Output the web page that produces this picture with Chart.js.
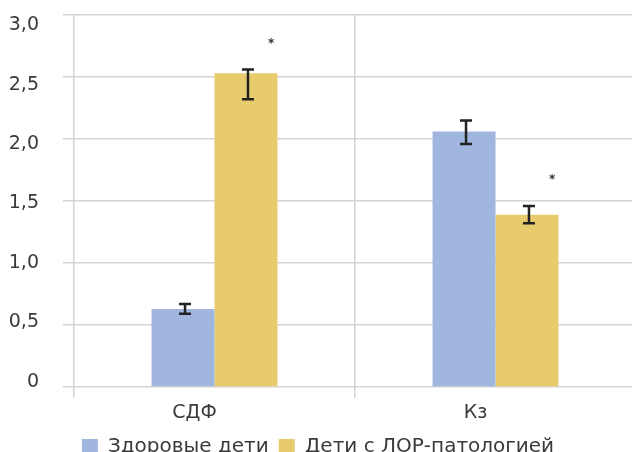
<!DOCTYPE html>
<html>
<head>
<meta charset="utf-8">
<script src="https://cdn.jsdelivr.net/npm/chart.js@4/dist/chart.umd.min.js"></script>
<style>
  html, body { margin: 0; padding: 0; background: #ffffff; overflow: hidden; }
  #wrap { width: 636px; height: 467px; }
</style>
</head>
<body>
<div id="wrap"><canvas id="c" width="636" height="467"></canvas></div>
<script>
// Categories and series
const categories = ['СДФ', 'Кз'];
const seriesNames = ['Здоровые дети', 'Дети с ЛОР-патологией'];

// Bar heights
const healthy = [0.63, 2.06];
const lor = [2.53, 1.39];

// Error whisker extents (lower / upper)
const healthyLow = [0.59, 1.96];
const healthyHigh = [0.67, 2.15];
const lorLow = [2.32, 1.32];
const lorHigh = [2.56, 1.46];

// Significance marks above the second series
const healthyMarks = ['', ''];
const lorMarks = ['*', '*'];

// Value-axis tick labels
const yTicks = [0, 0.5, 1, 1.5, 2, 2.5, 3];

const FONT = "'DejaVu Sans', 'Liberation Sans', sans-serif";
const TEXT = '#3a3a3a';
const GRID = '#d4d4d4';

const whiskers = [
  { low: healthyLow, high: healthyHigh, marks: healthyMarks },
  { low: lorLow, high: lorHigh, marks: lorMarks }
];

const errorBars = {
  id: 'errorBars',
  afterDatasetsDraw(chart) {
    const ctx = chart.ctx;
    const y = chart.scales.y;
    ctx.save();
    whiskers.forEach((w, di) => {
      const meta = chart.getDatasetMeta(di);
      meta.data.forEach((bar, i) => {
        const x = bar.x + 2;
        const yTop = y.getPixelForValue(w.high[i]);
        const yBot = y.getPixelForValue(w.low[i]);
        ctx.strokeStyle = '#222222';
        ctx.lineWidth = 2.5;
        ctx.lineCap = 'butt';
        ctx.beginPath();
        ctx.moveTo(x, yTop); ctx.lineTo(x, yBot);
        ctx.moveTo(x - 6, yTop); ctx.lineTo(x + 6, yTop);
        ctx.moveTo(x - 6, yBot); ctx.lineTo(x + 6, yBot);
        ctx.stroke();
        if (w.marks[i]) {
          ctx.fillStyle = '#333333';
          ctx.font = 'bold 12px ' + FONT;
          ctx.textAlign = 'center';
          ctx.textBaseline = 'middle';
          ctx.fillText(w.marks[i], bar.x + bar.width * 0.4, yTop - 26);
        }
      });
    });
    ctx.restore();
  }
};

const fmt = v => (v === 0 ? '0' : v.toFixed(1).replace('.', ','));
const noPad = s => { s.paddingTop = 0; s.paddingBottom = 0; s.paddingLeft = 0; s.paddingRight = 0; };

new Chart(document.getElementById('c'), {
  type: 'bar',
  data: {
    labels: categories,
    datasets: [
      { label: seriesNames[0], data: healthy, backgroundColor: '#a0b6de' },
      { label: seriesNames[1], data: lor, backgroundColor: '#e8cb6c' }
    ]
  },
  options: {
    responsive: false,
    devicePixelRatio: 1,
    animation: false,
    layout: { padding: { top: 15, left: 0, right: 0, bottom: 0 } },
    datasets: { bar: { categoryPercentage: 0.448, barPercentage: 1.0 } },
    plugins: {
      tooltip: { enabled: false },
      legend: {
        position: 'bottom',
        labels: {
          boxWidth: 16, boxHeight: 16, padding: 10,
          color: TEXT,
          font: { family: FONT, size: 20 }
        }
      }
    },
    scales: {
      x: {
        type: 'category',
        offset: true,
        grid: { offset: true, color: GRID, lineWidth: 1.5, tickLength: 11, drawOnChartArea: true },
        border: { display: false },
        ticks: { color: TEXT, font: { family: FONT, size: 19 }, padding: 4, labelOffset: -20, maxRotation: 0 },
        afterFit: s => { s.height = 40; noPad(s); }
      },
      y: {
        type: 'linear',
        position: 'left',
        weight: 0,
        min: 0, max: 3,
        ticks: { display: false, stepSize: 0.5 },
        grid: { color: GRID, lineWidth: 1.5, tickLength: 11 },
        border: { display: false },
        afterFit: s => { s.width = 11; noPad(s); }
      },
      yLab: {
        type: 'linear',
        position: 'left',
        weight: 1,
        min: -0.042, max: 3.085,
        grid: { display: false, drawTicks: false },
        border: { display: false },
        ticks: { color: TEXT, font: { family: FONT, size: 19 }, padding: 24, callback: v => fmt(v) },
        afterBuildTicks: s => { s.ticks = yTicks.map(v => ({ value: v })); },
        afterFit: s => { s.width = 63; noPad(s); }
      }
    }
  },
  plugins: [errorBars]
});
</script>
</body>
</html>
